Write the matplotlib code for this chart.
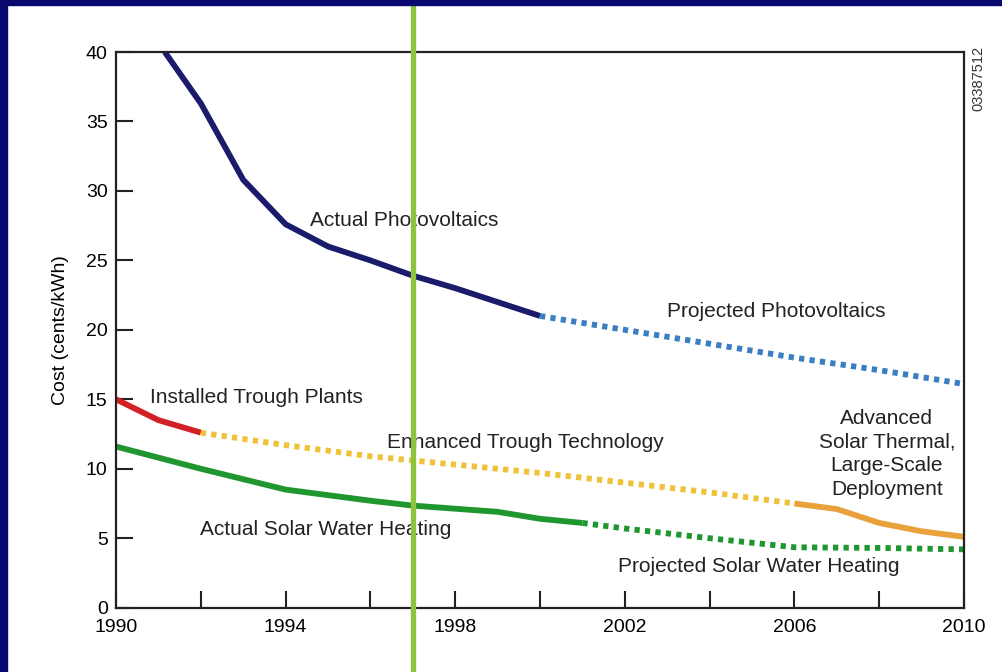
import matplotlib.pyplot as plt
from matplotlib.patches import Rectangle

plt.rcParams['font.family'] = ['Liberation Sans', 'DejaVu Sans']

# Solar technology cost curves (cents/kWh)
pv_years = [1991.15, 1992, 1993, 1994, 1995, 1996, 1997, 1998, 1999, 2000]
pv_cost = [40.0, 36.3, 30.8, 27.6, 26.0, 25.0, 23.9, 23.0, 22.0, 21.0]

pv_proj_years = [2000, 2002, 2004, 2006, 2008, 2010]
pv_proj_cost = [21.0, 20.0, 19.0, 18.0, 17.1, 16.1]

trough_years = [1990, 1991, 1992]
trough_cost = [15.0, 13.5, 12.6]

enh_years = [1992, 1994, 1996, 1998, 2000, 2002, 2004, 2006]
enh_cost = [12.6, 11.7, 10.9, 10.3, 9.7, 9.0, 8.3, 7.5]

adv_years = [2006, 2007, 2008, 2009, 2010]
adv_cost = [7.5, 7.1, 6.1, 5.5, 5.1]

swh_years = [1990, 1992, 1994, 1996, 1997, 1999, 2000, 2001]
swh_cost = [11.6, 10.0, 8.5, 7.7, 7.35, 6.9, 6.4, 6.1]

swh_proj_years = [2001, 2002, 2004, 2006, 2008, 2010]
swh_proj_cost = [6.1, 5.7, 5.0, 4.35, 4.3, 4.2]

marker_year = 1997

x_ticks = list(range(1990, 2011, 2))
x_labels = [str(y) if (y - 1990) % 4 == 0 else '' for y in x_ticks]
y_ticks = list(range(0, 41, 5))

fig = plt.figure(figsize=(10.02, 6.72), dpi=100)
fig.patch.set_facecolor('white')
ax = fig.add_axes([0.1158, 0.0957, 0.8463, 0.8269])

lw = 4.2
dot = (0, (0.9, 0.9))
ax.plot(pv_years, pv_cost, color='#1b1b6b', lw=lw, solid_capstyle='butt')
ax.plot(pv_proj_years, pv_proj_cost, color='#3a7fc1', lw=lw, ls=dot, dash_capstyle='butt')
ax.plot(trough_years, trough_cost, color='#d32027', lw=lw, solid_capstyle='butt')
ax.plot(enh_years, enh_cost, color='#efc23a', lw=lw, ls=dot, dash_capstyle='butt')
ax.plot(adv_years, adv_cost, color='#e9a23b', lw=lw, solid_capstyle='butt')
ax.plot(swh_years, swh_cost, color='#20962f', lw=lw, solid_capstyle='butt')
ax.plot(swh_proj_years, swh_proj_cost, color='#20962f', lw=lw, ls=dot, dash_capstyle='butt')

ax.axvline(marker_year, ymin=-0.2, ymax=1.2, color='#8cc43c', lw=3.8,
           clip_on=False, zorder=5)

ax.set_xlim(1990, 2010)
ax.set_ylim(0, 40)
ax.set_xticks(x_ticks)
ax.set_xticklabels(x_labels)
ax.set_yticks(y_ticks)
ax.tick_params(direction='in', length=12, width=1.5, labelsize=14, color='#222222')
ax.tick_params(axis='x', pad=8)
ax.tick_params(axis='y', pad=6)
for s in ax.spines.values():
    s.set_linewidth(1.6)
    s.set_color('#222222')

ax.set_ylabel('Cost (cents/kWh)', fontsize=14, labelpad=12)

txt = dict(fontsize=15, color='#222222')
ax.text(1994.58, 27.9, 'Actual Photovoltaics', va='center', **txt)
ax.text(2002.99, 21.3, 'Projected Photovoltaics', va='center', **txt)
ax.text(1990.8, 15.1, 'Installed Trough Plants', va='center', **txt)
ax.text(1996.39, 11.9, 'Enhanced Trough Technology', va='center', **txt)
ax.text(2008.18, 11.07, 'Advanced\nSolar Thermal,\nLarge-Scale\nDeployment',
        ha='center', va='center', linespacing=1.3, **txt)
ax.text(1991.98, 5.6, 'Actual Solar Water Heating', va='center', **txt)
ax.text(2001.84, 2.93, 'Projected Solar Water Heating', va='center', **txt)

fig.text(0.9765, 0.884, '03387512', rotation=90, ha='center', va='center',
         fontsize=10.5, color='#333333')

# navy border strips along the top and left edge
navy = '#08086e'
fig.patches.append(Rectangle((0, 1 - 5 / 672), 1, 5 / 672, transform=fig.transFigure,
                             color=navy, zorder=10))
fig.patches.append(Rectangle((0, 0), 7 / 1002, 1, transform=fig.transFigure,
                             color=navy, zorder=10))

fig.savefig('out.png', dpi=100)
